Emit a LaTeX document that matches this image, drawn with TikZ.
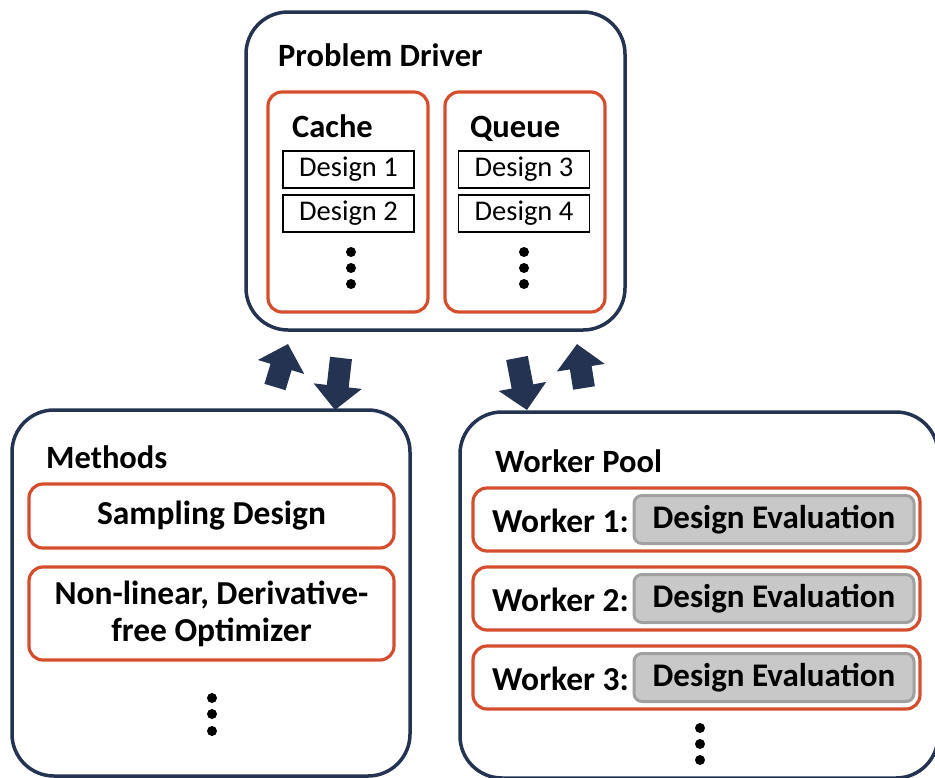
\documentclass[tikz,border=0pt]{standalone}
\usepackage{fontspec}
\setmainfont{Carlito}
\usepackage{tikz}
\usetikzlibrary{shapes,arrows.meta,positioning,calc}
\definecolor{navycolor}{RGB}{35,51,81}
\definecolor{redcolor}{RGB}{212,78,45}
\definecolor{evalfill}{RGB}{200,200,200}
\definecolor{evaledge}{RGB}{160,160,160}
\tikzstyle{outer box}=[draw=navycolor,line width=3.5pt,rounded corners=42pt,inner sep=0pt]
\tikzstyle{inner box}=[draw=redcolor,line width=3.2pt,rounded corners=14pt,inner sep=0pt]
\tikzstyle{design box}=[draw=black,line width=1.6pt,inner sep=0pt,minimum width=131pt,minimum height=37pt,font=\fontsize{28.5}{28.5}\selectfont]
\tikzstyle{eval box}=[draw=evaledge,fill=evalfill,line width=3pt,rounded corners=8pt,inner sep=0pt,minimum width=280pt,minimum height=48pt,font=\fontsize{33}{33}\selectfont\bfseries]
\tikzstyle{title}=[anchor=base west,inner sep=0pt,font=\fontsize{32.5}{32.5}\selectfont\bfseries]
\tikzstyle{body}=[font=\fontsize{33.5}{33.5}\selectfont\bfseries]
\tikzstyle{dot}=[circle,fill=black,inner sep=0pt,minimum size=10pt]
\tikzstyle{flow arrow}=[draw=navycolor,line width=22pt,-{Triangle[length=24pt,width=47pt]}]

\begin{document}
\begin{tikzpicture}[x=1pt,y=-1pt]
\useasboundingbox (0,0) rectangle (935,777);

	% Problem driver with cache and queue
    \node[outer box, minimum width=379pt, minimum height=318pt] (PD) at (435.5,171) {};
    \node[title] (PD-title) at (278,66) {Problem Driver};

    \node[inner box, minimum width=160pt, minimum height=220pt] (C) at (348,202) {};
    \node[inner box, minimum width=160pt, minimum height=220pt] (Q) at (525,202) {};
    \node[title] (C-title) at (292,137) {Cache};
    \node[title] (Q-title) at (470,137) {Queue};

    \node[design box] (D-1) at (348.5,169.5) {Design 1};
    \node[design box] (D-2) at (348.5,213.5) {Design 2};
    \node[design box] (D-3) at (524,169.5) {Design 3};
    \node[design box] (D-4) at (524,213.5) {Design 4};

    \foreach \i/\y in {1/252,2/268,3/284}{
        \node[dot] (C-dot-\i) at (351,\y) {};
        \node[dot] (Q-dot-\i) at (524,\y) {};
    }

	% Methods
    \node[outer box, minimum width=398pt, minimum height=366pt] (M) at (211,593) {};
    \node[title] (M-title) at (46,468) {Methods};
    \node[inner box, body, minimum width=365pt, minimum height=64pt] (M-1) at (211.5,516) {Sampling Design};
    \node[inner box, body, minimum width=365pt, minimum height=93pt, align=center, font=\fontsize{33.5}{37}\selectfont\bfseries] (M-2) at (211.5,613.5) {Non-linear, Derivative-\\free Optimizer};
    \foreach \i/\y in {1/698,2/714,3/731}
        \node[dot] (M-dot-\i) at (212,\y) {};

	% Worker pool
    \node[outer box, minimum width=478pt, minimum height=366pt] (W) at (699,595) {};
    \node[title] (W-title) at (495,472) {Worker Pool};
    \foreach \n in {1,...,3}{
        \node[inner box, minimum width=447pt, minimum height=63pt] (W-\n) at (696.5,440.5+79*\n) {};
        \node[eval box] (E-\n) at (774,440.5+79*\n) {Design Evaluation};
        \node[body, anchor=west, inner sep=0pt] (W-label-\n) at (492,441.5+79*\n) {Worker \n:};
    }
    \foreach \i/\y in {1/728,2/744,3/760}
        \node[dot] (W-dot-\i) at (700,\y) {};

	% Exchange arrows
    \coordinate (A-1-tail) at (275,387);
    \coordinate (A-1-tip) at (288,344);
    \coordinate (A-2-tail) at (341,358);
    \coordinate (A-2-tip) at (335,410);
    \coordinate (A-3-tail) at (517,358);
    \coordinate (A-3-tip) at (527,410);
    \coordinate (A-4-tail) at (584,388);
    \coordinate (A-4-tip) at (577,344);
    \foreach \a in {1,...,4}
        \draw[flow arrow] (A-\a-tail) -- (A-\a-tip);

\end{tikzpicture}
\end{document}
